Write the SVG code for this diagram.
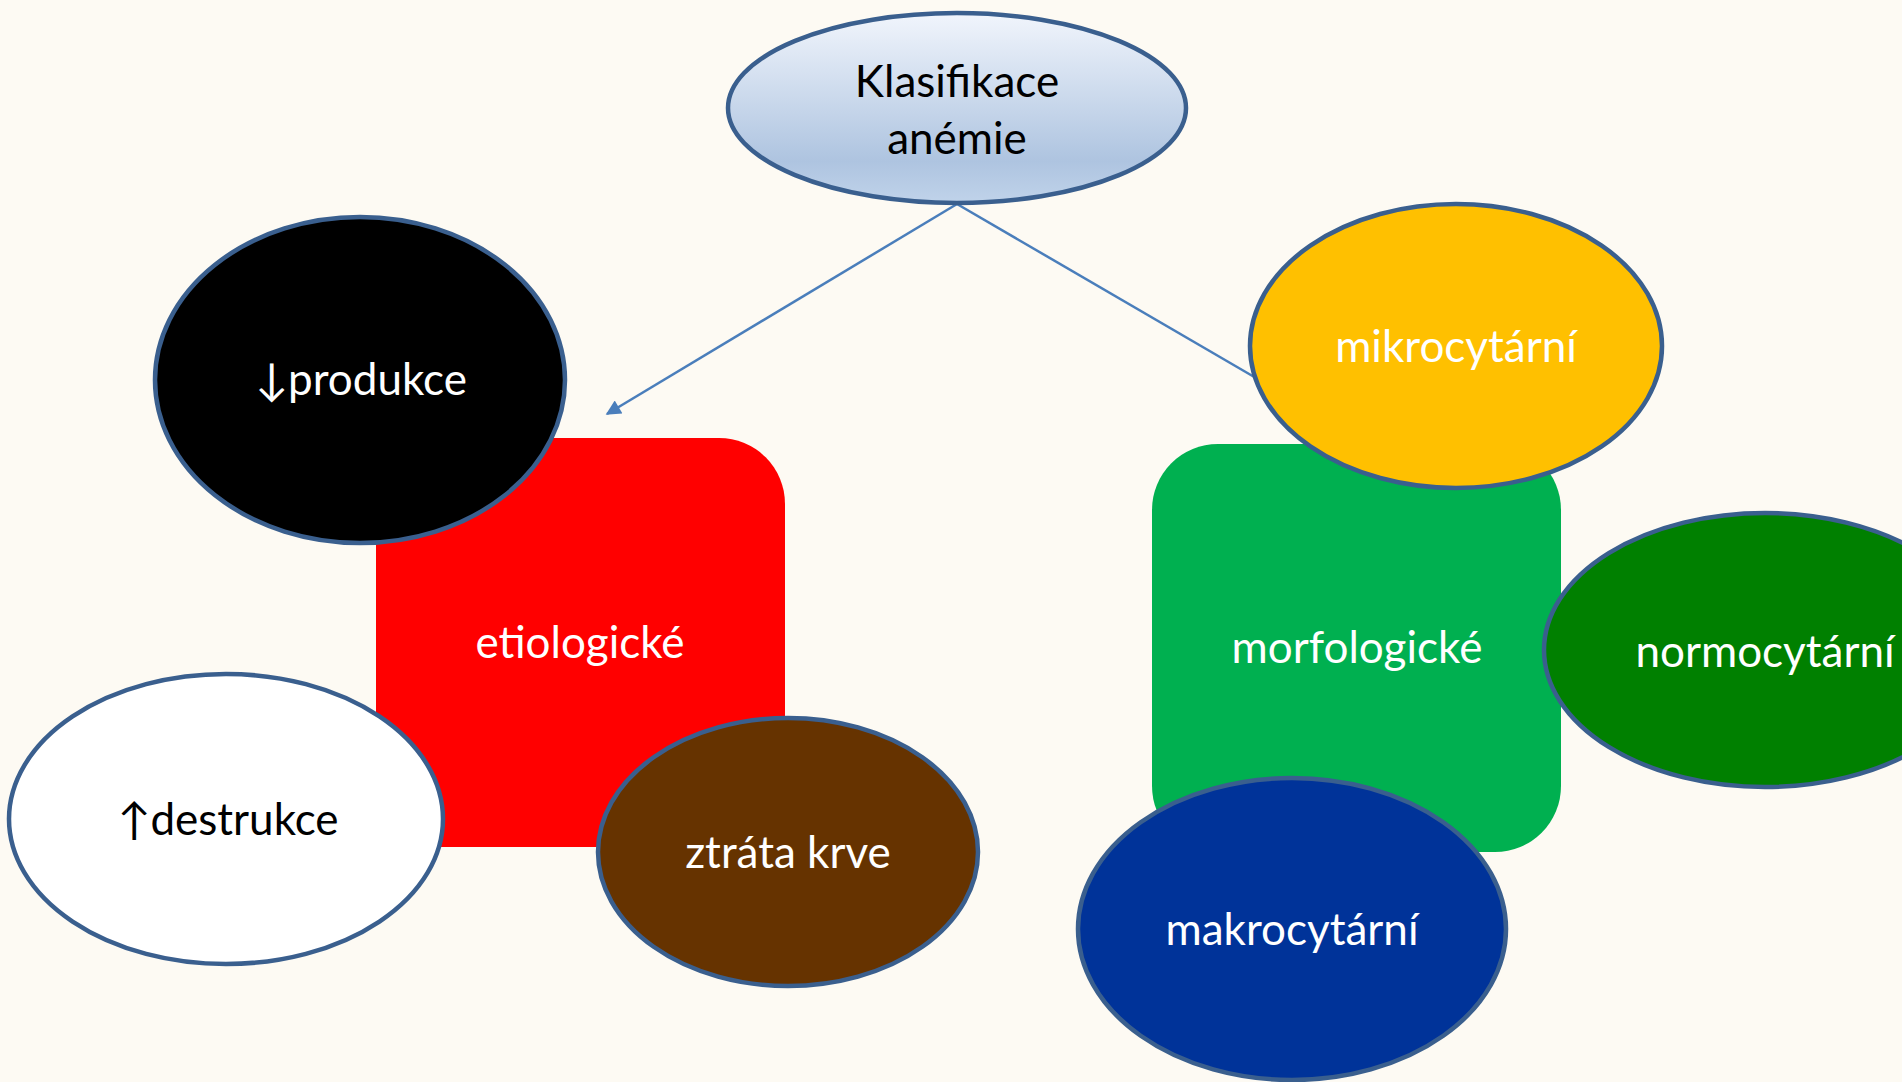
<svg xmlns="http://www.w3.org/2000/svg" width="1902" height="1082" viewBox="0 0 1902 1082">
  <defs>
    <linearGradient id="topFill" x1="0" y1="0" x2="0" y2="1">
      <stop offset="0" stop-color="#f1f5fc"/>
      <stop offset="0.78" stop-color="#aec4e0"/>
      <stop offset="1" stop-color="#c0d3ea"/>
    </linearGradient>
    <marker id="arrow" viewBox="0 0 10 10" refX="9" refY="5" markerWidth="7" markerHeight="6" markerUnits="strokeWidth" orient="auto">
      <path d="M0,0 L10,5 L0,10 Z" fill="#4a7ebb"/>
    </marker>
  </defs>
  <style>
    .bubble { stroke: #3a5f8e; stroke-width: 4.5; }
    .box { stroke: none; }
    .lbl { font-family: Lato, "Open Sans", "Liberation Sans", sans-serif; font-size: 44px; text-anchor: middle; fill: #ffffff; }
    .dark { fill: #000000; }
    .edge { stroke: #4a7ebb; stroke-width: 2.5; fill: none; }
  </style>

  <rect x="0" y="0" width="1902" height="1082" fill="#fdfaf3"/>

  <!-- connectors -->
  <g id="connectors">
    <line class="edge" x1="957" y1="204" x2="607" y2="414" marker-end="url(#arrow)"/>
    <line class="edge" x1="957" y1="204" x2="1256" y2="378"/>
  </g>

  <!-- root -->
  <g id="root">
    <ellipse class="bubble" cx="957" cy="108" rx="229" ry="95" fill="url(#topFill)"/>
    <text class="lbl dark" x="957" y="97">Klasifikace</text>
    <text class="lbl dark" x="957" y="154">anémie</text>
  </g>

  <!-- etiological branch -->
  <g id="etiologicke">
    <rect class="box" x="376" y="438" width="409" height="409" rx="66" fill="#ff0000"/>
    <text class="lbl" x="580" y="658">etiologické</text>
  </g>
  <g id="produkce">
    <ellipse class="bubble" cx="360" cy="380" rx="205" ry="163" fill="#000000"/>
    <text class="lbl" x="361" y="395">↓produkce</text>
  </g>
  <g id="destrukce">
    <ellipse class="bubble" cx="226" cy="819" rx="217" ry="145" fill="#ffffff"/>
    <text class="lbl dark" x="228" y="835">↑destrukce</text>
  </g>
  <g id="ztrata">
    <ellipse class="bubble" cx="788" cy="852" rx="190" ry="134" fill="#663300"/>
    <text class="lbl" x="788" y="868">ztráta krve</text>
  </g>

  <!-- morphological branch -->
  <g id="morfologicke">
    <rect class="box" x="1152" y="444" width="409" height="408" rx="66" fill="#00b050"/>
    <text class="lbl" x="1357" y="663">morfologické</text>
  </g>
  <g id="mikrocytarni">
    <ellipse class="bubble" cx="1456" cy="346" rx="206" ry="142" fill="#ffc000"/>
    <text class="lbl" x="1456" y="362">mikrocytární</text>
  </g>
  <g id="normocytarni">
    <ellipse class="bubble" cx="1765" cy="650" rx="221" ry="137" fill="#008000"/>
    <text class="lbl" x="1765" y="667">normocytární</text>
  </g>
  <g id="makrocytarni">
    <ellipse class="bubble" cx="1292" cy="929" rx="214" ry="151" fill="#003399"/>
    <text class="lbl" x="1292" y="945">makrocytární</text>
  </g>
</svg>
